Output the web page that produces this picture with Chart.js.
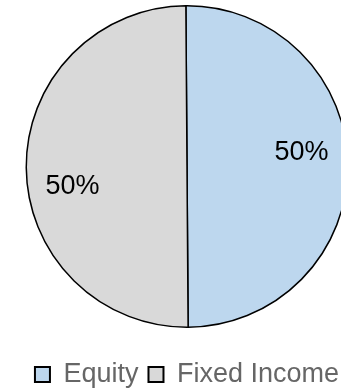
<!DOCTYPE html>
<html lang="en">
<head>
  <meta charset="UTF-8" />
  <title>Asset Allocation</title>
  <style>
    html, body {
      margin: 0;
      padding: 0;
      background: #ffffff;
      overflow: hidden;
    }
    .wrap {
      width: 374px;
      height: 398px;
    }
  </style>
</head>
<body>
  <div class="wrap">
    <canvas id="allocChart" width="374" height="398"></canvas>
  </div>

  <script src="https://cdn.jsdelivr.net/npm/chart.js"></script>
  <script>
    const categories = ["Equity", "Fixed Income"];
    const shares = [50, 50];
    const sliceColors = ["#BDD7EE", "#D9D9D9"];

    const FONT = "'Liberation Sans', Arial, sans-serif";

    // percentage labels inside each slice
    const sliceLabels = {
      id: "sliceLabels",
      afterDatasetsDraw(chart) {
        const ctx = chart.ctx;
        const meta = chart.getDatasetMeta(0);
        ctx.save();
        ctx.font = "27px " + FONT;
        ctx.fillStyle = "#000000";
        ctx.textAlign = "center";
        ctx.textBaseline = "middle";
        meta.data.forEach((arc, i) => {
          const p = arc.getProps(["x", "y", "startAngle", "endAngle", "outerRadius"], true);
          const mid = (p.startAngle + p.endAngle) / 2 - 0.14;
          const r = p.outerRadius * 0.72;
          // small nudge down so the digits sit centred on the point
          ctx.fillText(shares[i] + "%", p.x + Math.cos(mid) * r, p.y + Math.sin(mid) * r + 3);
        });
        ctx.restore();
      }
    };

    new Chart(document.getElementById("allocChart"), {
      type: "pie",
      data: {
        labels: categories,
        datasets: [{
          data: shares,
          backgroundColor: sliceColors,
          borderColor: "#000000",
          borderWidth: 1.5,
        }],
      },
      options: {
        responsive: false,
        animation: false,
        rotation: -0.4,
        layout: { padding: { top: 5, bottom: 0 } },
        plugins: {
          tooltip: { enabled: false },
          legend: {
            position: "bottom",
            // empty title just keeps some room between pie and legend
            title: {
              display: true,
              text: "",
              font: { size: 10, lineHeight: 1 },
              padding: { top: 13, bottom: 0 },
            },
            labels: {
              color: "#595959",
              font: { family: FONT, size: 27 },
              boxWidth: 15,
              boxHeight: 15,
              padding: 10,
              generateLabels(chart) {
                return categories.map((c, i) => ({
                  text: c,
                  fillStyle: sliceColors[i],
                  strokeStyle: "#000000",
                  lineWidth: 2,
                  index: i,
                }));
              },
            },
          },
        },
      },
      plugins: [sliceLabels],
    });
  </script>
</body>
</html>
